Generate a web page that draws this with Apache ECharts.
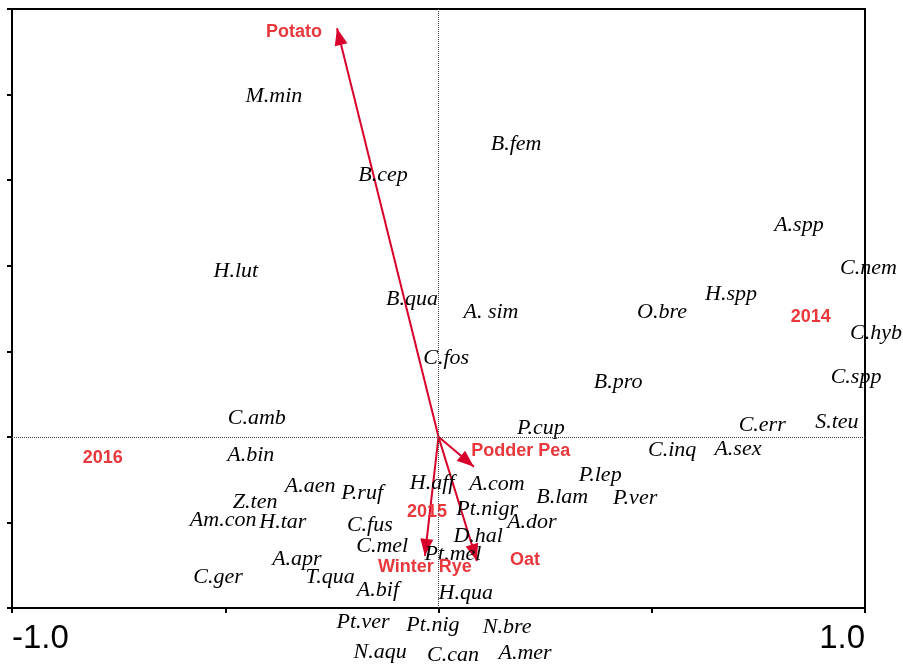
<!DOCTYPE html>
<html>
<head>
<meta charset="utf-8">
<script src="https://cdn.jsdelivr.net/npm/echarts@6/dist/echarts.min.js"></script>
<style>
html,body{margin:0;padding:0;background:#fff;}
#chart{width:903px;height:664px;}
</style>
</head>
<body>
<div id="chart"></div>
<script>
// Species scores (label positions)
var speciesNames = ['M.min','B.fem','B.cep','A.spp','C.nem','H.lut','H.spp','B.qua','A. sim','O.bre','C.hyb','C.fos','B.pro','C.spp','C.amb','S.teu','C.err','P.cup','A.bin','C.inq','A.sex','P.lep','H.aff','A.aen','P.ruf','A.com','P.ver','B.lam','Z.ten','Pt.nigr','Am.con','H.tar','C.fus','A.dor','D.hal','C.mel','Pt.mel','A.apr','C.ger','T.qua','A.bif','H.qua','Pt.ver','Pt.nig','N.bre','N.aqu','C.can','A.mer'];
var speciesX = [-0.386,0.182,-0.130,0.845,1.008,-0.475,0.686,-0.062,0.123,0.524,1.026,0.018,0.421,0.979,-0.426,0.934,0.759,0.240,-0.440,0.548,0.702,0.379,-0.015,-0.301,-0.179,0.137,0.461,0.290,-0.430,0.114,-0.505,-0.365,-0.161,0.219,0.093,-0.132,0.034,-0.332,-0.517,-0.254,-0.142,0.064,-0.177,-0.013,0.161,-0.137,0.034,0.203];
var speciesY = [0.796,0.684,0.612,0.495,0.394,0.388,0.334,0.322,0.292,0.292,0.243,0.184,0.128,0.140,0.044,0.035,0.028,0.021,-0.043,-0.031,-0.028,-0.089,-0.108,-0.115,-0.132,-0.110,-0.143,-0.140,-0.152,-0.169,-0.194,-0.199,-0.206,-0.199,-0.233,-0.255,-0.274,-0.286,-0.328,-0.328,-0.358,-0.365,-0.433,-0.440,-0.445,-0.503,-0.510,-0.505];

// Environmental variable arrows (tips)
var envNames = ['Potato','Podder Pea','Oat','Winter Rye'];
var envArrowX = [-0.238,0.083,0.090,-0.032];
var envArrowY = [0.955,-0.070,-0.290,-0.278];
var envLabelX = [-0.339,0.193,0.203,-0.032];
var envLabelY = [0.946,-0.033,-0.288,-0.304];

// Year centroids
var yearNames = ['2014','2015','2016'];
var yearX = [0.873,-0.027,-0.787];
var yearY = [0.280,-0.175,-0.049];

var labelRed = '#e8383c';
var arrowRed = '#d8002a';

var speciesData = speciesNames.map(function(n,i){return {name:n,value:[speciesX[i],speciesY[i]]};});
var envLabelData = envNames.map(function(n,i){return {name:n,value:[envLabelX[i],envLabelY[i]]};});
var yearData = yearNames.map(function(n,i){return {name:n,value:[yearX[i],yearY[i]]};});
var arrowData = envNames.map(function(n,i){return {name:n,coords:[[0,0],[envArrowX[i],envArrowY[i]]]};});

var arrowHead = 'path://M-18,0 L-17.98,0 L-18,0.02 Z M18,36 L17.98,36 L18,35.98 Z M0,18 L6.5,35 L-6.5,35 Z';

var chart = echarts.init(document.getElementById('chart'));
chart.setOption({
  animation:false,
  backgroundColor:'#fff',
  grid:{left:12,top:9,right:38,bottom:56,show:true,borderColor:'#000',borderWidth:2,backgroundColor:'transparent'},
  xAxis:{
    type:'value',min:-1,max:1,interval:0.5,
    axisLine:{show:true,onZero:false,lineStyle:{color:'#000',width:2}},
    axisTick:{show:true,length:5,lineStyle:{color:'#000',width:2}},
    splitLine:{show:false},
    axisLabel:{
      show:true,margin:14,color:'#000',fontFamily:'Liberation Sans, Arial, sans-serif',fontSize:33,
      alignMinLabel:'left',alignMaxLabel:'right',
      formatter:function(v){ if(Math.abs(v+1)<1e-9) return '-1.0'; if(Math.abs(v-1)<1e-9) return '1.0'; return ''; }
    }
  },
  yAxis:{
    type:'value',min:-0.4,max:1.0,interval:0.2,
    axisLine:{show:true,onZero:false,lineStyle:{color:'#000',width:2}},
    axisTick:{show:true,length:5,lineStyle:{color:'#000',width:2}},
    splitLine:{show:false},
    axisLabel:{show:false}
  },
  series:[
    {
      type:'scatter',
      data:[],
      silent:true,
      markLine:{
        silent:true,symbol:'none',
        label:{show:false},
        lineStyle:{color:'#444',width:1,type:'dotted'},
        data:[{xAxis:0},{yAxis:0}]
      }
    },
    {
      type:'lines',
      coordinateSystem:'cartesian2d',
      silent:true,
      symbol:['none',arrowHead],
      symbolSize:36,
      lineStyle:{color:arrowRed,width:2,opacity:1,curveness:0},
      data:arrowData,
      z:3
    },
    {
      type:'scatter',
      data:speciesData,
      clip:false,
      symbolSize:1,
      itemStyle:{color:'rgba(0,0,0,0)',opacity:1},
      silent:true,
      label:{
        show:true,position:'inside',formatter:'{b}',
        color:'#000',fontFamily:'Liberation Serif, Times New Roman, serif',fontStyle:'italic',fontSize:22
      },
      z:4
    },
    {
      type:'scatter',
      data:envLabelData.concat(yearData),
      clip:false,
      symbolSize:1,
      itemStyle:{color:'rgba(0,0,0,0)',opacity:1},
      silent:true,
      label:{
        show:true,position:'inside',formatter:'{b}',
        color:labelRed,fontFamily:'Liberation Sans, Arial, sans-serif',fontWeight:'bold',fontSize:18
      },
      z:5
    }
  ]
});
</script>
</body>
</html>
